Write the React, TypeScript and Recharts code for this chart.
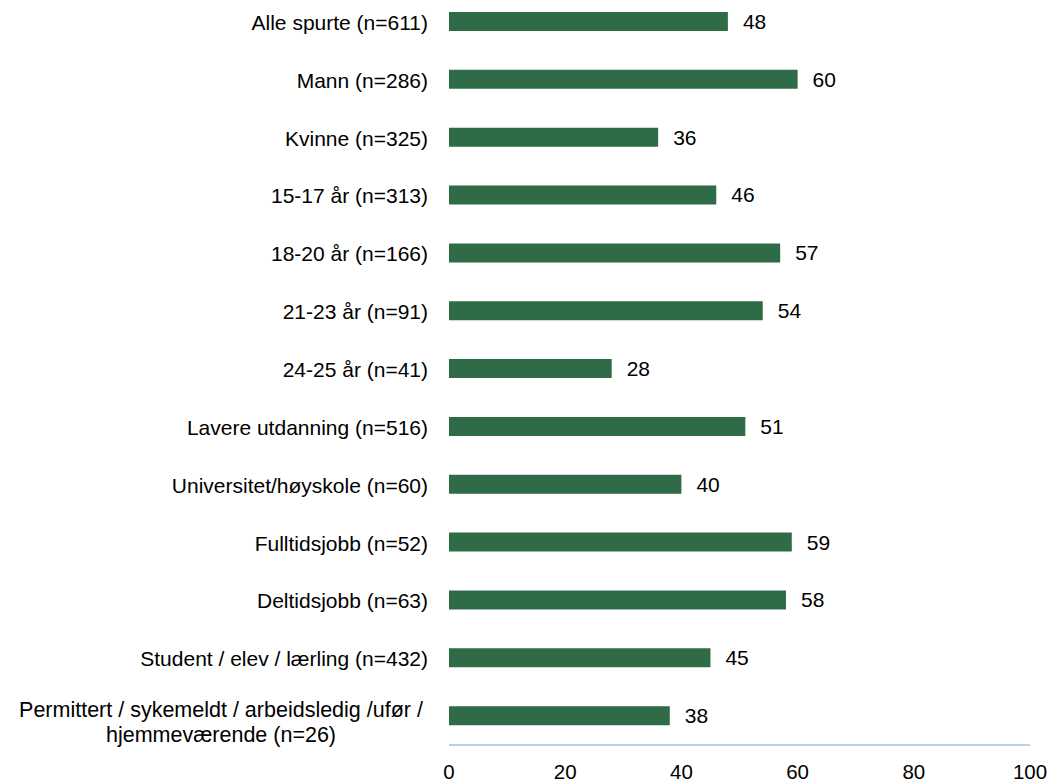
import { BarChart, Bar, XAxis, YAxis, LabelList } from "recharts";

const categories = [
  "Alle spurte (n=611)",
  "Mann (n=286)",
  "Kvinne (n=325)",
  "15-17 år (n=313)",
  "18-20 år (n=166)",
  "21-23 år (n=91)",
  "24-25 år (n=41)",
  "Lavere utdanning (n=516)",
  "Universitet/høyskole (n=60)",
  "Fulltidsjobb (n=52)",
  "Deltidsjobb (n=63)",
  "Student / elev / lærling (n=432)",
  "Permittert / sykemeldt / arbeidsledig /ufør /\nhjemmeværende (n=26)",
];

const values = [48, 60, 36, 46, 57, 54, 28, 51, 40, 59, 58, 45, 38];

const xTicks = [0, 20, 40, 60, 80, 100];

const data = categories.map((name, i) => ({ name, value: values[i] }));

const FONT = "'Liberation Sans', Arial, sans-serif";

function CategoryTick(props: any) {
  const { x, y, payload } = props;
  const lines: string[] = String(payload.value).split("\n");
  if (lines.length === 1) {
    return (
      <text x={x - 19} y={y} dy={8} textAnchor="end" fontSize={21} fontFamily={FONT} fill="#000">
        {lines[0]}
      </text>
    );
  }
  return (
    <text x={x - 226} y={y} textAnchor="middle" fontSize={21.5} fontFamily={FONT} fill="#000">
      {lines.map((l, i) => (
        <tspan key={i} x={x - 226} dy={i === 0 ? 1 : 25}>
          {l}
        </tspan>
      ))}
    </text>
  );
}

export default function App() {
  return (
    <div style={{ position: "absolute", left: 0, top: -7 }}>
      <BarChart
        width={1053}
        height={790}
        data={data}
        layout="vertical"
        margin={{ top: 0, right: 23, left: 0, bottom: 0 }}
      >
        <XAxis
          type="number"
          domain={[0, 100]}
          ticks={xTicks}
          height={38}
          tickLine={false}
          tickSize={0}
          tickMargin={19}
          axisLine={{ stroke: "#BFCFE3", strokeWidth: 2 }}
          tick={{ fontSize: 20.5, fontFamily: FONT, fill: "#000" }}
        />
        <YAxis
          type="category"
          dataKey="name"
          width={449}
          axisLine={false}
          tickLine={false}
          tickSize={0}
          interval={0}
          tick={<CategoryTick />}
        />
        <Bar dataKey="value" fill="#2F6B46" barSize={19} isAnimationActive={false}>
          <LabelList
            dataKey="value"
            position="right"
            offset={15}
            fontSize={21}
            fontFamily={FONT}
            fill="#000"
          />
        </Bar>
      </BarChart>
    </div>
  );
}
